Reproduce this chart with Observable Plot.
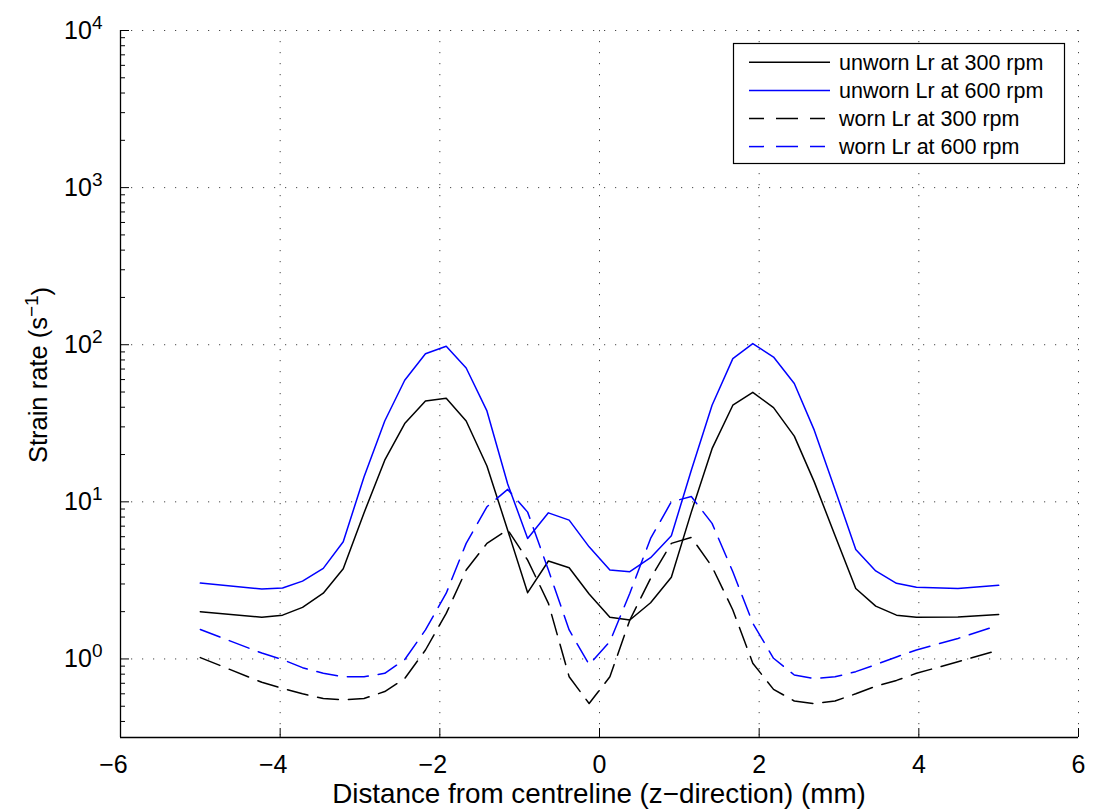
<!DOCTYPE html>
<html>
<head>
<meta charset="utf-8">
<script src="https://cdn.jsdelivr.net/npm/d3@7"></script>
<script src="https://cdn.jsdelivr.net/npm/@observablehq/plot@0.6"></script>
<style>
  html, body { margin: 0; padding: 0; background: #fff; }
  svg { display: block; }
</style>
</head>
<body>
<div id="chart"></div>
<script>
// ---- data ----
const xs = [-5, -4.23, -3.97, -3.72, -3.46, -3.21, -2.95, -2.69, -2.44, -2.18, -1.92, -1.67, -1.41, -1.15, -0.90, -0.64, -0.38, -0.13,
            0.13, 0.38, 0.64, 0.90, 1.15, 1.41, 1.67, 1.92, 2.18, 2.44, 2.69, 2.95, 3.21, 3.46, 3.72, 3.97, 4.49, 5.0];
const unworn300 = [2.0, 1.84, 1.90, 2.13, 2.62, 3.75, 8.5, 18.4, 31.5, 43.9, 45.6, 32.7, 16.9, 6.6, 2.64, 4.2, 3.81, 2.59,
                   1.84, 1.77, 2.28, 3.31, 8.6, 21.8, 41.2, 49.8, 39.8, 26.2, 13.4, 6.1, 2.81, 2.17, 1.90, 1.84, 1.85, 1.92];
const unworn600 = [3.04, 2.79, 2.83, 3.13, 3.77, 5.57, 14.4, 32.7, 59.4, 87.7, 97.7, 71.1, 37.9, 13.0, 5.85, 8.51, 7.65, 5.17,
                   3.68, 3.59, 4.41, 6.08, 15.9, 41.2, 81.6, 101.6, 83.5, 56.6, 28.6, 12.0, 4.98, 3.63, 3.03, 2.86, 2.81, 2.94];
const worn300   = [1.02, 0.71, 0.65, 0.60, 0.56, 0.55, 0.56, 0.62, 0.75, 1.14, 1.95, 3.68, 5.44, 6.65, 4.26, 2.26, 0.77, 0.52,
                   0.77, 1.77, 3.26, 5.44, 5.94, 3.86, 2.05, 0.94, 0.64, 0.54, 0.52, 0.54, 0.60, 0.67, 0.73, 0.81, 0.96, 1.14];
const worn600   = [1.54, 1.09, 0.99, 0.88, 0.81, 0.77, 0.77, 0.81, 0.99, 1.53, 2.62, 5.44, 9.3, 12.0, 8.6, 3.68, 1.53, 0.92,
                   1.29, 2.62, 5.85, 10.0, 10.8, 7.29, 3.59, 1.69, 1.01, 0.79, 0.75, 0.77, 0.83, 0.92, 1.03, 1.14, 1.35, 1.64];

const seriesNames = ["unworn Lr at 300 rpm", "unworn Lr at 600 rpm", "worn Lr at 300 rpm", "worn Lr at 600 rpm"];
const seriesValues = [unworn300, unworn600, worn300, worn600];
const seriesColors = ["#000000", "#0000ff", "#000000", "#0000ff"];
const seriesDash = [null, null, "21,10", "21,10"];

const xTicks = [-6, -4, -2, 0, 2, 4, 6];
const xTickLabels = ["\u22126", "\u22124", "\u22122", "0", "2", "4", "6"];
const yTicks = [1, 10, 100, 1000, 10000];
const yTickExponents = ["0", "1", "2", "3", "4"];
const yMinorMultipliers = [2, 3, 4, 5, 6, 7, 8, 9];
const xLabel = "Distance from centreline (z\u2212direction) (mm)";
const yLabelMain = "Strain rate (s";
const yLabelSup = "\u22121";

// ---- layout ----
const W = 1093, H = 812;
const mL = 120, mR = 15, mT = 30, mB = 75;
const plotW = W - mL - mR, plotH = H - mT - mB;
const yMin = Math.pow(10, -0.5), yMax = 1e4;
const yMinor = [0.1, 1, 10, 100, 1000].flatMap(p => yMinorMultipliers.map(m => m * p)).filter(v => v >= yMin && v <= yMax);
const FONT = "'Liberation Sans', Arial, Helvetica, sans-serif";

const lineMarks = seriesValues.map((vals, i) =>
  Plot.line(vals, {x: xs, y: vals, stroke: seriesColors[i], strokeWidth: 1.5,
    strokeDasharray: seriesDash[i] || undefined})
);

const chart = Plot.plot({
  width: W, height: H,
  marginLeft: mL, marginRight: mR, marginTop: mT, marginBottom: mB,
  style: {fontFamily: FONT, fontSize: "25px", background: "#fff", color: "#000", overflow: "visible"},
  x: {domain: [-6, 6], label: null},
  y: {type: "log", domain: [yMin, yMax], label: null},
  marks: [
    Plot.gridX(xTicks, {stroke: "#333", strokeOpacity: 0.9, strokeWidth: 1, strokeDasharray: "1.2,9.8"}),
    Plot.gridY(yTicks, {stroke: "#333", strokeOpacity: 0.9, strokeWidth: 1, strokeDasharray: "1.2,9.8"}),
    Plot.ruleX([-6], {stroke: "#000", strokeWidth: 1.3}),
    Plot.ruleY([yMin], {stroke: "#000", strokeWidth: 1.3}),
    Plot.tickX(xTicks, {x: d => d, stroke: "#000", strokeWidth: 1, insetTop: plotH - 9}),
    Plot.tickY(yTicks, {y: d => d, stroke: "#000", strokeWidth: 1, insetRight: plotW - 9}),
    Plot.tickY(yMinor, {y: d => d, stroke: "#000", strokeWidth: 1, insetRight: plotW - 5}),
    Plot.axisX(xTicks, {tickSize: 0, tickPadding: 18, tickFormat: (d) => xTickLabels[xTicks.indexOf(d)], fontSize: 25, label: null}),
    Plot.axisY(yTicks, {tickSize: 0, tickPadding: 18, tickFormat: (d) => "10^" + yTickExponents[yTicks.indexOf(d)], fontSize: 25, label: null}),
    ...lineMarks
  ]
});

document.getElementById("chart").appendChild(chart);

const svg = d3.select(chart);

// superscript exponents on y tick labels
svg.selectAll('g[aria-label="y-axis tick label"] text').each(function() {
  const t = this.textContent;
  if (!t.includes("^")) return;
  const [base, exp] = t.split("^");
  const el = d3.select(this);
  el.text(null);
  el.append("tspan").text(base);
  el.append("tspan").attr("dy", "-0.5em").attr("font-size", "19px").text(exp);
});

// MATLAB-style: centre the digit, let the minus hang left
svg.selectAll('g[aria-label="x-axis tick label"] text').each(function() {
  if (this.textContent.startsWith("\u2212")) d3.select(this).attr("dx", -7);
});

// axis titles
svg.append("text")
  .attr("x", 599).attr("y", 803)
  .attr("text-anchor", "middle")
  .attr("font-family", FONT).attr("font-size", 27.8)
  .attr("fill", "#000")
  .text(xLabel);

const yl = svg.append("text")
  .attr("transform", "translate(47,375) rotate(-90)")
  .attr("text-anchor", "middle")
  .attr("font-family", FONT).attr("font-size", 25.5)
  .attr("fill", "#000");
yl.append("tspan").text(yLabelMain);
yl.append("tspan").attr("dy", "-0.5em").attr("font-size", "19px").text(yLabelSup);
yl.append("tspan").attr("dy", "0.5em").text(")");

// legend
const lg = svg.append("g").attr("font-family", FONT).attr("font-size", 21.5).attr("text-anchor", "start");
lg.append("rect")
  .attr("x", 733.5).attr("y", 43.5).attr("width", 331).attr("height", 120)
  .attr("fill", "#fff").attr("stroke", "#000").attr("stroke-width", 1.2);
seriesNames.forEach((name, i) => {
  const cy = 62.3 + i * 28.1;
  lg.append("line")
    .attr("x1", 749).attr("x2", 830).attr("y1", cy).attr("y2", cy)
    .attr("stroke", seriesColors[i]).attr("stroke-width", 1.5)
    .attr("stroke-dasharray", seriesDash[i] ? "15,12,22,12" : null);
  lg.append("text")
    .attr("x", 839).attr("y", cy).attr("dy", "0.36em")
    .attr("text-anchor", "start")
    .attr("fill", "#000")
    .text(name);
});
</script>
</body>
</html>
